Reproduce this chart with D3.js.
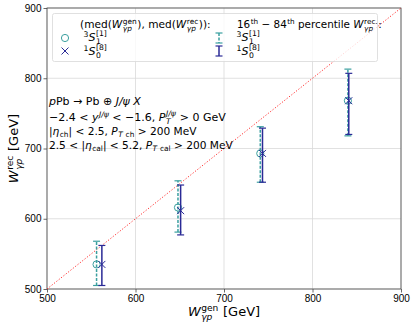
<!DOCTYPE html>
<html>
<head>
<meta charset="utf-8">
<script src="https://cdn.jsdelivr.net/npm/d3@7"></script>
<style>
  body { margin: 0; background: #fff; }
  svg { font-family: "DejaVu Sans", sans-serif; }
</style>
</head>
<body>
<div id="chart"></div>
<script>
var svgWidth = 416;
var svgHeight = 327;
var margin = { top: 8, right: 15, bottom: 38, left: 47 };
var width = svgWidth - margin.left - margin.right;
var height = svgHeight - margin.top - margin.bottom;

// values (GeV)
var ticks = [500, 600, 700, 800, 900];
var genS1 = [556, 648, 741, 840];
var recS1 = [535, 616, 693, 768];
var loS1 = [505, 581, 652, 718];
var hiS1 = [568, 654, 731, 813];
var genS0 = [562, 651, 743.5, 841];
var recS0 = [535, 611.5, 693, 768];
var loS0 = [505, 577, 652, 720];
var hiS0 = [562, 648, 729, 807];

var teal = "#3a9f9f";
var navy = "#2a2a96";

var svg = d3.select("#chart").append("svg")
  .attr("width", svgWidth)
  .attr("height", svgHeight);

var chart = svg.append("g")
  .attr("transform", "translate(" + margin.left + "," + margin.top + ")");

var x = d3.scaleLinear().domain([500, 900]).range([0, width]);
var y = d3.scaleLinear().domain([500, 900]).range([height, 0]);

// grid
chart.append("g").selectAll("line").data(ticks).enter().append("line")
  .attr("x1", function(d) { return x(d); }).attr("x2", function(d) { return x(d); })
  .attr("y1", 0).attr("y2", height)
  .attr("stroke", "#d9d9d9").attr("stroke-width", 0.8);
chart.append("g").selectAll("line").data(ticks).enter().append("line")
  .attr("y1", function(d) { return y(d); }).attr("y2", function(d) { return y(d); })
  .attr("x1", 0).attr("x2", width)
  .attr("stroke", "#d9d9d9").attr("stroke-width", 0.8);

// axes
var xAxis = chart.append("g")
  .attr("transform", "translate(0," + height + ")")
  .call(d3.axisBottom(x).tickValues(ticks).tickSize(3.5).tickPadding(2));
var yAxis = chart.append("g")
  .call(d3.axisLeft(y).tickValues(ticks).tickSize(3.5).tickPadding(2));
[xAxis, yAxis].forEach(function(a) {
  a.select(".domain").remove();
  a.selectAll("text").style("font-size", "10px").attr("fill", "#000");
  a.selectAll("line").attr("stroke", "#444").attr("stroke-width", 0.8);
});

chart.append("rect")
  .attr("width", width).attr("height", height)
  .attr("fill", "none").attr("stroke", "#444").attr("stroke-width", 0.8);

// diagonal
chart.append("line")
  .attr("x1", x(500)).attr("y1", y(500))
  .attr("x2", x(900)).attr("y2", y(900))
  .attr("stroke", "#ff3030").attr("stroke-width", 1)
  .attr("stroke-dasharray", "1.2,1.8");

// lay out mathtext-like pieces as separate text elements
function mathText(parent, x0, y0, pieces, fs, anchor) {
  var g = parent.append("g");
  var cx = 0;
  function piece(t, dx, dy, size, it) {
    var el = g.append("text")
      .attr("x", cx + dx).attr("y", dy)
      .style("font-size", size + "px")
      .style("font-style", it ? "italic" : "normal")
      .style("white-space", "pre")
      .attr("fill", "#000")
      .text(t);
    return el.node().getComputedTextLength();
  }
  pieces.forEach(function(p) {
    var s = fs * 0.7;
    if (p.t !== undefined) {
      cx += piece(p.t, 0, 0, fs, p.it);
    } else if (p.sup !== undefined) {
      cx += piece(p.sup, 0.5, -fs * 0.38, s, p.it) + 0.5;
    } else if (p.sub !== undefined) {
      cx += piece(p.sub, 0.5, fs * 0.22, s, p.it) + 0.5;
    } else if (p.stack) {
      var w1 = piece(p.stack[0], 0.5, -fs * 0.42, s, p.it0);
      var w2 = piece(p.stack[1], 0.5, fs * 0.28, s, p.it1);
      cx += Math.max(w1, w2) + 1;
    }
  });
  var shift = anchor === "middle" ? -cx / 2 : (anchor === "end" ? -cx : 0);
  g.attr("transform", "translate(" + (x0 + shift) + "," + y0 + ")");
  return g;
}

// error bars and markers
function series(gen, rec, lo, hi, color, dashed, marker) {
  var g = chart.append("g");
  var idx = d3.range(gen.length);
  g.selectAll(".bar").data(idx).enter().append("line")
    .attr("x1", function(i) { return x(gen[i]); }).attr("x2", function(i) { return x(gen[i]); })
    .attr("y1", function(i) { return y(lo[i]); }).attr("y2", function(i) { return y(hi[i]); })
    .attr("stroke", color).attr("stroke-width", 1.5)
    .attr("stroke-dasharray", dashed ? "3,1.5" : null);
  [lo, hi].forEach(function(arr) {
    g.selectAll(null).data(idx).enter().append("line")
      .attr("x1", function(i) { return x(gen[i]) - 3.5; }).attr("x2", function(i) { return x(gen[i]) + 3.5; })
      .attr("y1", function(i) { return y(arr[i]); }).attr("y2", function(i) { return y(arr[i]); })
      .attr("stroke", color).attr("stroke-width", 1.2);
  });
  if (marker === "o") {
    g.selectAll("circle").data(idx).enter().append("circle")
      .attr("cx", function(i) { return x(gen[i]); })
      .attr("cy", function(i) { return y(rec[i]); })
      .attr("r", 3.6).attr("fill", "none").attr("stroke", color).attr("stroke-width", 1);
  } else {
    g.selectAll("path").data(idx).enter().append("path")
      .attr("d", function(i) {
        var cx = x(gen[i]), cy = y(rec[i]), s = 3.5;
        return "M" + (cx - s) + "," + (cy - s) + "L" + (cx + s) + "," + (cy + s) +
          "M" + (cx - s) + "," + (cy + s) + "L" + (cx + s) + "," + (cy - s);
      })
      .attr("stroke", color).attr("stroke-width", 1).attr("fill", "none");
  }
}
series(genS1, recS1, loS1, hiS1, teal, true, "o");
series(genS0, recS0, loS0, hiS0, navy, false, "x");

// legend
var leg = svg.append("g");
leg.append("rect")
  .attr("x", 52.5).attr("y", 13.5).attr("width", 325).attr("height", 48).attr("rx", 2)
  .attr("fill", "#fff").attr("fill-opacity", 0.8)
  .attr("stroke", "#d8d8d8").attr("stroke-width", 0.8);

mathText(leg, 80, 28, [
  { t: "(med(" }, { t: "W", it: 1 }, { stack: ["gen", "γp"], it1: 1 },
  { t: "), med(" }, { t: "W", it: 1 }, { stack: ["rec", "γp"], it1: 1 }, { t: ")):" }
], 10.6);
mathText(leg, 237, 28, [
  { t: "16" }, { sup: "th" }, { t: " − 84" }, { sup: "th" }, { t: " percentile " },
  { t: "W", it: 1 }, { stack: ["rec.", "γp"], it1: 1 }, { t: ":" }
], 10.4);

function stateS1(px, py) {
  mathText(leg, px, py, [{ sup: "3" }, { t: "S", it: 1 }, { stack: ["[1]", "1"] }], 11);
}
function stateS0(px, py) {
  mathText(leg, px, py, [{ sup: "1" }, { t: "S", it: 1 }, { stack: ["[8]", "0"] }], 11);
}
stateS1(83, 41);
stateS0(83, 55);
stateS1(236, 41);
stateS0(236, 55);

leg.append("circle").attr("cx", 65).attr("cy", 38).attr("r", 3.6)
  .attr("fill", "none").attr("stroke", teal).attr("stroke-width", 1);
leg.append("path")
  .attr("d", "M61.5,47.5L68.5,54.5M61.5,54.5L68.5,47.5")
  .attr("stroke", navy).attr("stroke-width", 1).attr("fill", "none");

function legBar(cx, y1, y2, color, dashed) {
  leg.append("line").attr("x1", cx).attr("x2", cx).attr("y1", y1).attr("y2", y2)
    .attr("stroke", color).attr("stroke-width", 1.5)
    .attr("stroke-dasharray", dashed ? "3,1.5" : null);
  [y1, y2].forEach(function(v) {
    leg.append("line").attr("x1", cx - 3.5).attr("x2", cx + 3.5).attr("y1", v).attr("y2", v)
      .attr("stroke", color).attr("stroke-width", 1.2);
  });
}
legBar(219, 33, 43, teal, true);
legBar(219, 46, 56, navy, false);

// annotation
var note = svg.append("g");
mathText(note, 49, 105, [
  { t: "p", it: 1 }, { t: "Pb → Pb ⊕ " }, { t: "J/ψ X", it: 1 }
], 11);
mathText(note, 49, 121, [
  { t: "−2.4 < " }, { t: "y", it: 1 }, { sup: "J/ψ", it: 1 }, { t: " < −1.6, " },
  { t: "P", it: 1 }, { stack: ["J/ψ", "T"], it0: 1, it1: 1 }, { t: " > 0 GeV" }
], 11);
mathText(note, 49, 135, [
  { t: "|" }, { t: "η", it: 1 }, { sub: "ch" }, { t: "| < 2.5, " },
  { t: "P", it: 1 }, { sub: "T", it: 1 }, { sub: " ch" }, { t: " > 200 MeV" }
], 10.6);
mathText(note, 49, 149, [
  { t: "2.5 < |" }, { t: "η", it: 1 }, { sub: "cal" }, { t: "| < 5.2, " },
  { t: "P", it: 1 }, { sub: "T", it: 1 }, { sub: " cal" }, { t: " > 200 MeV" }
], 10.6);

// axis labels
mathText(svg, margin.left + width / 2, 316, [
  { t: "W", it: 1 }, { stack: ["gen", "γp"], it1: 1 }, { t: " [GeV]" }
], 13, "middle");
var yl = mathText(svg, 0, 0, [
  { t: "W", it: 1 }, { stack: ["rec", "γp"], it1: 1 }, { t: " [GeV]" }
], 13, "middle");
var yt = yl.attr("transform");
yl.attr("transform", "translate(18," + (margin.top + height / 2) + ") rotate(-90) " + yt);
</script>
</body>
</html>
